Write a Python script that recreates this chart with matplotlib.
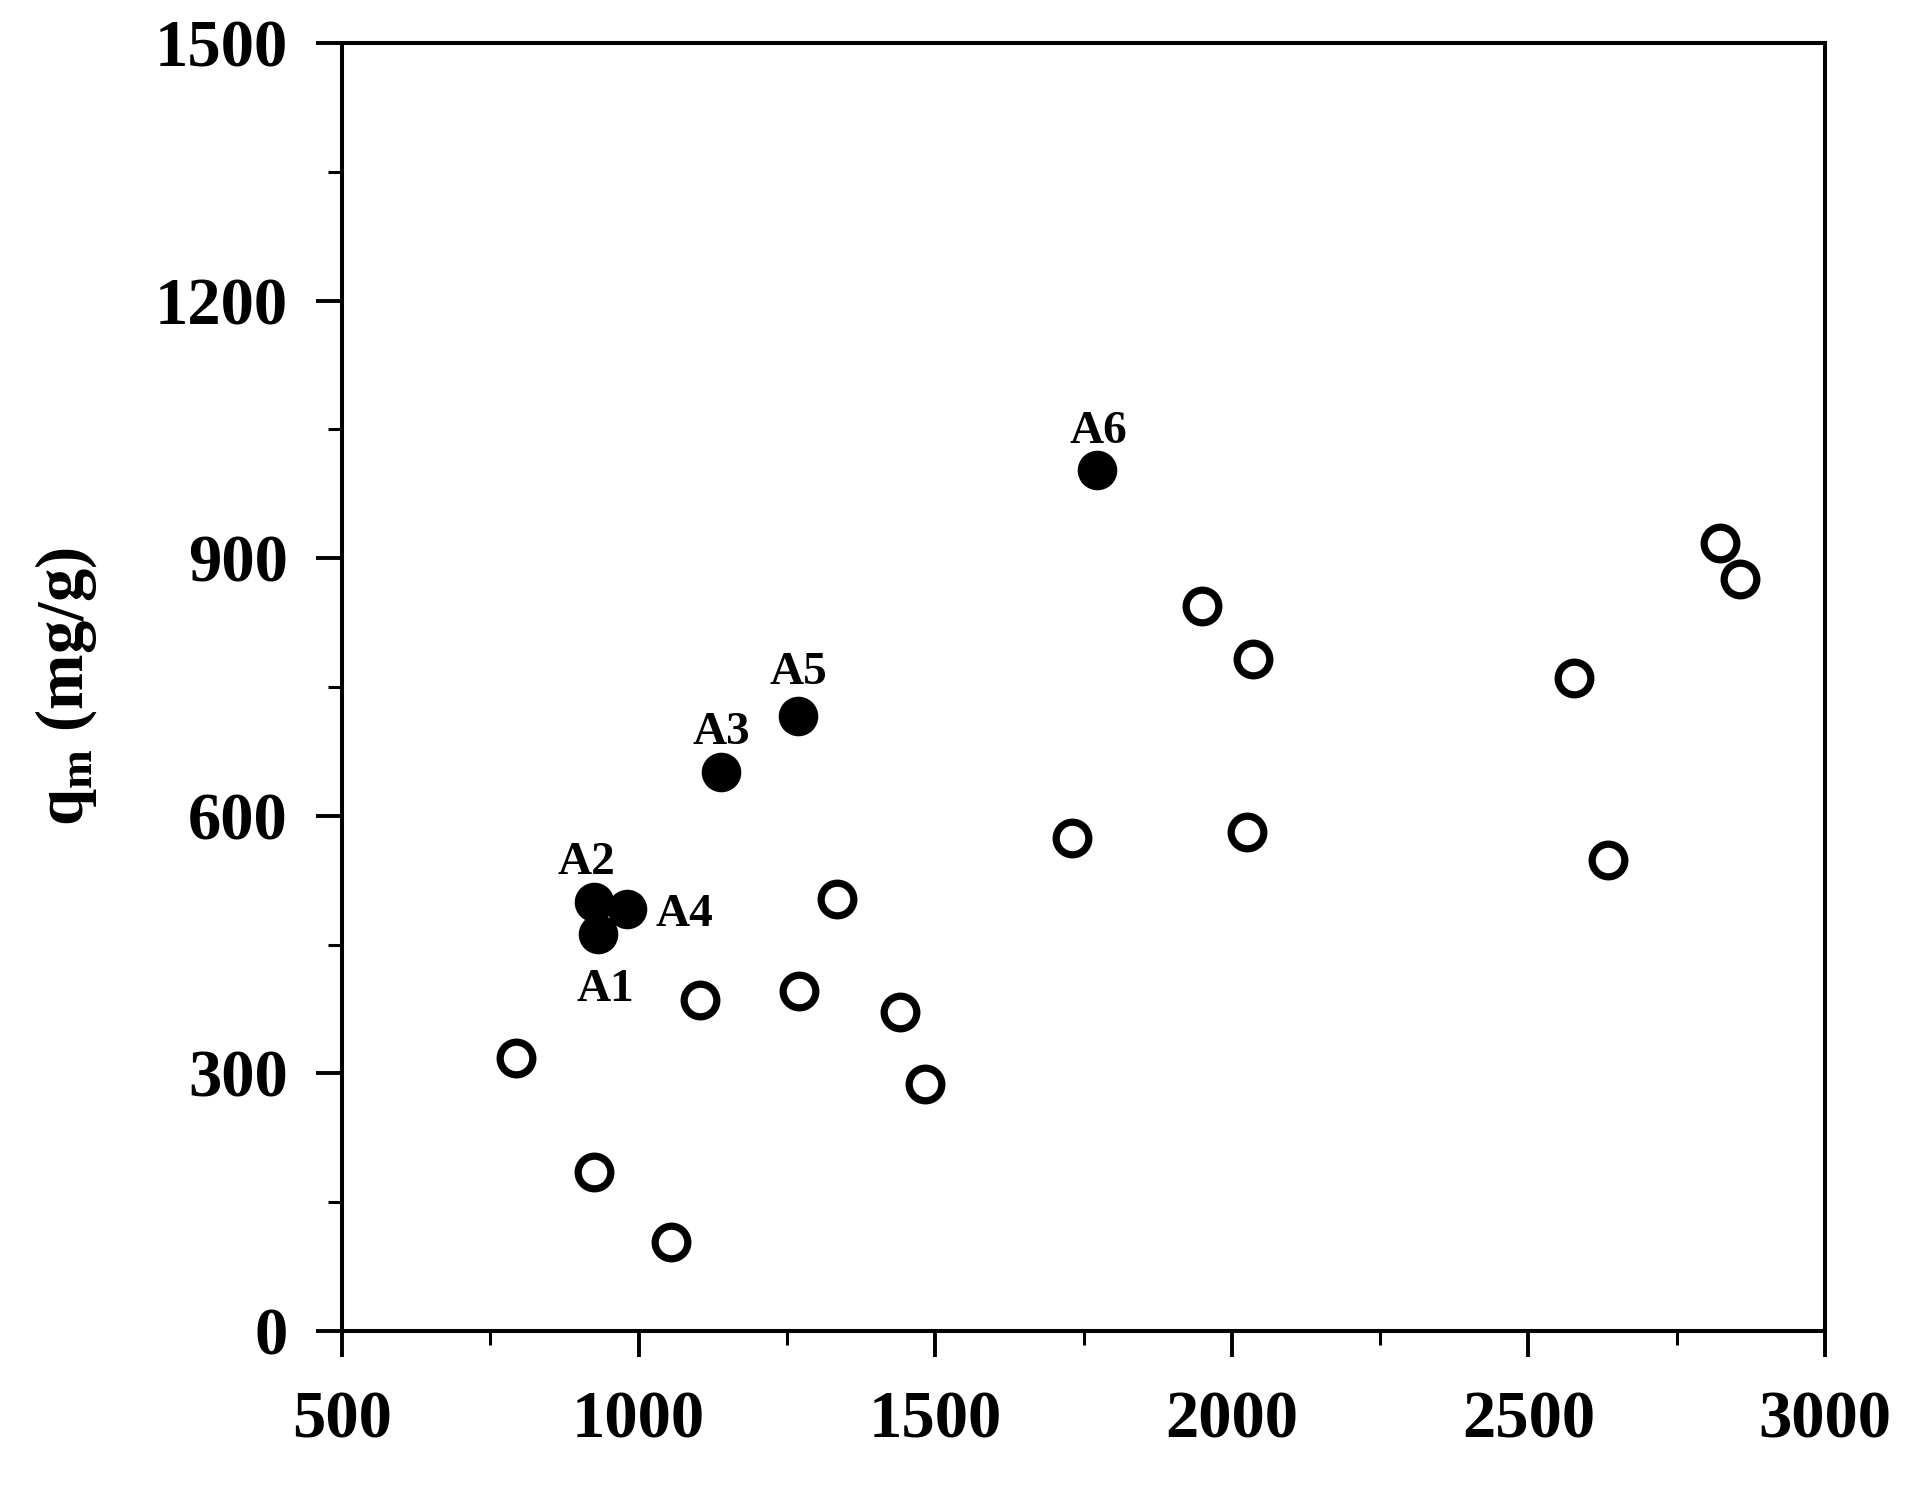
import matplotlib
matplotlib.use("Agg")
import matplotlib.pyplot as plt
from matplotlib.ticker import MultipleLocator

plt.rcParams['font.family'] = ['Liberation Serif', 'DejaVu Serif']
plt.rcParams['font.weight'] = 'bold'
plt.rcParams['mathtext.fontset'] = 'custom'
plt.rcParams['mathtext.rm'] = 'Liberation Serif:bold'
plt.rcParams['mathtext.it'] = 'Liberation Serif:bold'
plt.rcParams['mathtext.bf'] = 'Liberation Serif:bold'

# other adsorbents (open circles)
open_x = [794, 924, 1055, 1104, 1271, 1335, 1440, 1483, 1731, 1949, 2036, 2025, 2577, 2634, 2823, 2856]
open_y = [318, 185, 104, 385, 396, 503, 372, 288, 574, 844, 783, 581, 760, 548, 918, 876]

# this work (filled circles)
samples = ['A1', 'A2', 'A3', 'A4', 'A5', 'A6']
filled_x = [932, 924, 1139, 981, 1269, 1773]
filled_y = [462, 500, 651, 491, 716, 1003]

# label offsets in points
label_offsets = {'A1': (5, -40), 'A2': (-5, 28), 'A3': (0, 28),
                 'A4': (41, -4), 'A5': (0, 31), 'A6': (1, 27)}

fig = plt.figure(figsize=(19.11, 14.95), dpi=100)
ax = fig.add_axes([0.179, 0.1097, 0.776, 0.8615])

ax.plot(open_x, open_y, 'o', ms=23.5, mfc='white', mec='black', mew=5.2, ls='none')
ax.plot(filled_x, filled_y, 'o', ms=28.5, mfc='black', mec='black', mew=0, ls='none')

for name, x, y in zip(samples, filled_x, filled_y):
    ax.annotate(name, (x, y), xytext=label_offsets[name], textcoords='offset points',
                ha='center', va='center', fontsize=34, fontweight='bold')

ax.set_xlim(500, 3000)
ax.set_ylim(0, 1500)
ax.xaxis.set_major_locator(MultipleLocator(500))
ax.xaxis.set_minor_locator(MultipleLocator(250))
ax.yaxis.set_major_locator(MultipleLocator(300))
ax.yaxis.set_minor_locator(MultipleLocator(150))

ax.tick_params(which='major', direction='out', length=19, width=2.8, labelsize=48, top=False, right=False)
ax.tick_params(which='minor', direction='out', length=10, width=2.2, top=False, right=False)
ax.tick_params(axis='y', which='major', pad=20)
ax.tick_params(axis='x', which='major', pad=24)
for lab in ax.get_xticklabels() + ax.get_yticklabels():
    lab.set_fontweight('bold')

for s in ax.spines.values():
    s.set_linewidth(2.9)

ax.set_ylabel(r'q$_{\mathrm{m}}$ (mg/g)', fontsize=48, fontweight='bold', labelpad=40)

fig.savefig('out.png', dpi=100)
